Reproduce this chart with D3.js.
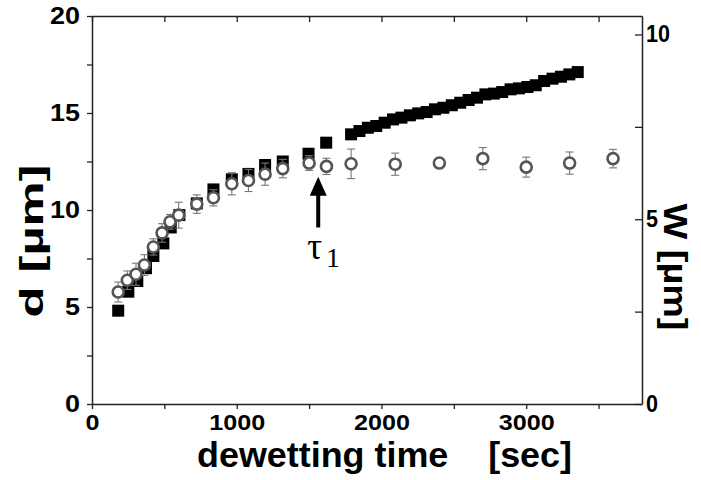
<!DOCTYPE html>
<html>
<head>
<meta charset="utf-8">
<script src="https://cdn.jsdelivr.net/npm/d3@7"></script>
<style>
body { margin: 0; background: #fff; }
text { font-family: "Liberation Sans", Arial, sans-serif; font-weight: bold; }
</style>
</head>
<body>
<svg id="chart" width="701" height="480"></svg>
<script>
// d (squares, left axis) and W (circles, right axis) vs dewetting time
var sqTime = [181, 251, 313, 373, 424, 493, 544, 604, 724, 839, 966, 1081, 1196, 1318, 1496, 1618,
  1790, 1848, 1906, 1964, 2022, 2080, 2138, 2196, 2254, 2312, 2370, 2428, 2486, 2544,
  2602, 2660, 2718, 2776, 2834, 2892, 2950, 3008, 3066, 3124, 3182, 3240, 3298, 3356];
var sqD = [4.81, 5.79, 6.34, 7.0, 7.63, 8.28, 9.1, 9.74, 10.34, 11.06, 11.58, 11.86, 12.32, 12.5, 12.9, 13.47,
  13.9, 14.07, 14.24, 14.33, 14.5, 14.67, 14.76, 14.88, 14.98, 15.05, 15.19, 15.27, 15.4, 15.53,
  15.67, 15.79, 15.96, 16.0, 16.08, 16.22, 16.27, 16.34, 16.43, 16.65, 16.77, 16.87, 16.99, 17.11];

var ciTime = [181, 244, 304, 362, 424, 484, 539, 599, 724, 839, 966, 1081, 1196, 1318, 1500, 1620,
  1790, 2095, 2400, 2700, 3000, 3300, 3600];
var ciW = [3.03, 3.35, 3.51, 3.76, 4.25, 4.63, 4.93, 5.11, 5.41, 5.58, 5.96, 6.05, 6.22, 6.37, 6.52, 6.43,
  6.5, 6.49, 6.52, 6.64, 6.41, 6.52, 6.64];
var ciErr = [0.27, 0.25, 0.3, 0.28, 0.22, 0.25, 0.2, 0.35, 0.25, 0.22, 0.3, 0.3, 0.3, 0.25, 0.2, 0.22,
  0.4, 0.3, 0.08, 0.3, 0.27, 0.3, 0.25];

var xTicks = [0, 500, 1000, 1500, 2000, 2500, 3000, 3500];
var leftTicks = [0, 2.5, 5, 7.5, 10, 12.5, 15, 17.5, 20];
var rightTicks = [0, 2.5, 5, 7.5, 10];
var tauTime = 1563;

var svg = d3.select('#chart');
var x = d3.scaleLinear().domain([0, 3800]).range([92, 642]);
var yL = d3.scaleLinear().domain([0, 20]).range([404, 16]);
var yR = d3.scaleLinear().domain([0, 10.5]).range([404, 16]);

var major = function(d, step) { return d % step === 0 ? d : ''; };

// stretch tick labels a bit, the original font is wide
var widen = function(g, perDigit) {
  g.selectAll('text').each(function() {
    var t = d3.select(this);
    var s = t.text();
    if (s.length) t.attr('textLength', s.length * perDigit).attr('lengthAdjust', 'spacingAndGlyphs');
  });
};

var gx = svg.append('g').attr('transform', 'translate(0,404)')
  .call(d3.axisBottom(x).tickValues(xTicks).tickSize(5).tickSizeOuter(0)
    .tickFormat(function(d) { return major(d, 1000); }));
gx.selectAll('text').attr('y', 10).attr('font-size', 22);
widen(gx, 14);

svg.append('g').attr('transform', 'translate(0,16)')
  .call(d3.axisTop(x).tickValues(xTicks).tickSize(-6).tickSizeOuter(0).tickFormat(''));

var gl = svg.append('g').attr('transform', 'translate(92,0)')
  .call(d3.axisLeft(yL).tickValues(leftTicks).tickSize(5).tickSizeOuter(0)
    .tickFormat(function(d) { return major(d, 5); }));
gl.selectAll('text').attr('x', -12).attr('font-size', 23);
widen(gl, 15);

var gr = svg.append('g').attr('transform', 'translate(642,0)')
  .call(d3.axisRight(yR).tickValues(rightTicks).tickSize(-7).tickSizeOuter(0)
    .tickFormat(function(d) { return major(d, 5); }));
gr.selectAll('text').attr('x', 4).attr('font-size', 23);
widen(gr, 12);

svg.selectAll('.domain').attr('stroke', '#222').attr('stroke-width', 1.5);
svg.selectAll('.tick line').attr('stroke', '#222').attr('stroke-width', 1.3);
svg.selectAll('.tick text').attr('fill', '#000');

// squares
svg.append('g').selectAll('rect').data(sqTime)
  .enter().append('rect')
  .attr('x', function(d) { return x(d) - 6; })
  .attr('y', function(d, i) { return yL(sqD[i]) - 6; })
  .attr('width', 12).attr('height', 12)
  .attr('fill', '#000');

// error bars
var eb = svg.append('g').attr('stroke', '#777').attr('stroke-width', 1.1);
ciTime.forEach(function(t, i) {
  var top = yR(ciW[i] + ciErr[i]), bot = yR(ciW[i] - ciErr[i]);
  eb.append('line').attr('x1', x(t)).attr('x2', x(t)).attr('y1', top).attr('y2', bot);
  eb.append('line').attr('x1', x(t) - 4).attr('x2', x(t) + 4).attr('y1', top).attr('y2', top);
  eb.append('line').attr('x1', x(t) - 4).attr('x2', x(t) + 4).attr('y1', bot).attr('y2', bot);
});

// circles
svg.append('g').selectAll('circle').data(ciTime)
  .enter().append('circle')
  .attr('cx', function(d) { return x(d); })
  .attr('cy', function(d, i) { return yR(ciW[i]); })
  .attr('r', 5.5)
  .attr('fill', '#fff').attr('stroke', '#555').attr('stroke-width', 2.6);

// tau_1 arrow
var ax = x(tauTime), tip = yL(11.72), tail = yL(9.1);
svg.append('line').attr('x1', ax).attr('x2', ax).attr('y1', tip + 14).attr('y2', tail)
  .attr('stroke', '#000').attr('stroke-width', 4);
svg.append('path')
  .attr('d', 'M' + ax + ',' + tip + 'L' + (ax - 8.5) + ',' + (tip + 19) + 'L' + (ax + 8.5) + ',' + (tip + 19) + 'Z')
  .attr('fill', '#000');
var tau = svg.append('text').attr('x', ax - 11).attr('y', tail + 32)
  .style('font-family', '"Liberation Serif", "Times New Roman", serif').style('font-weight', 'normal')
  .attr('font-size', 37).text('τ');
tau.append('tspan').attr('dx', 4).attr('dy', 8).attr('font-size', 28).text('1');

// axis titles
svg.append('text').attr('transform', 'translate(43,241) rotate(-90)')
  .attr('text-anchor', 'middle').attr('font-size', 34)
  .attr('textLength', 153).attr('lengthAdjust', 'spacingAndGlyphs')
  .text('d [µm]');

svg.append('text').attr('transform', 'translate(664,267) rotate(90)')
  .attr('text-anchor', 'middle').attr('font-size', 34)
  .attr('textLength', 127).attr('lengthAdjust', 'spacingAndGlyphs')
  .text('W [µm]');

svg.append('text').attr('x', 197).attr('y', 467)
  .attr('font-size', 35).style('white-space', 'pre')
  .attr('textLength', 375).attr('lengthAdjust', 'spacingAndGlyphs')
  .text('dewetting time    [sec]');
</script>
</body>
</html>
